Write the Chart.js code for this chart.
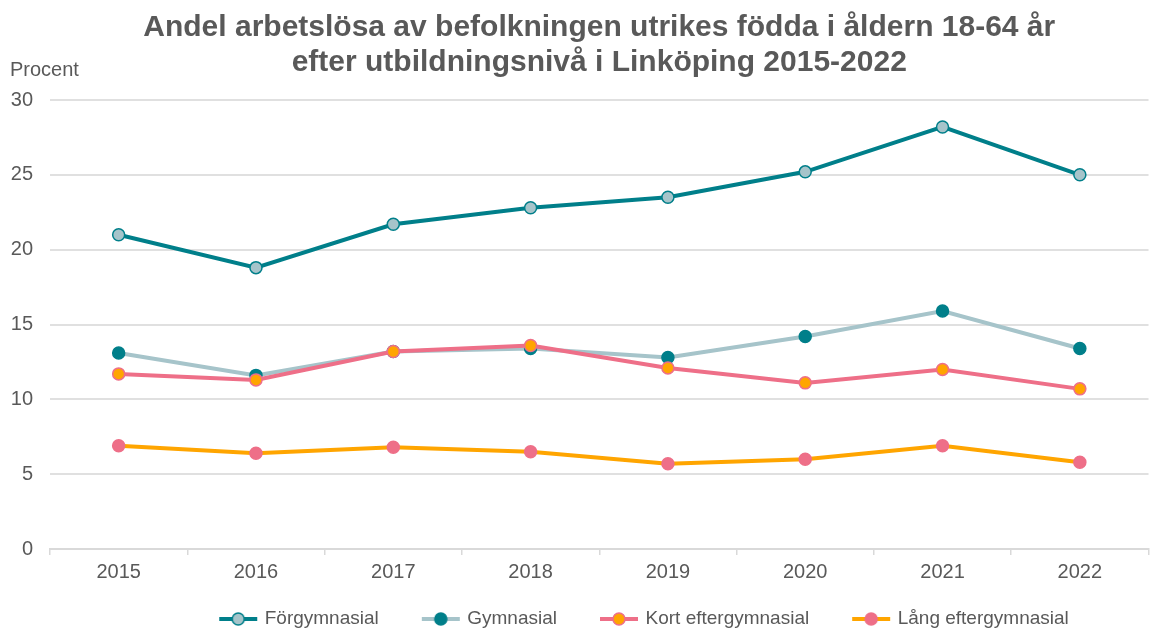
<!DOCTYPE html>
<html lang="sv">
<head>
<meta charset="utf-8">
<title>Andel arbetslösa utrikes födda - Linköping</title>
<script src="https://cdn.jsdelivr.net/npm/chart.js@4"></script>
<style>
    html, body { margin: 0; padding: 0; background: #fff; overflow: hidden; }
    #wrap { position: relative; width: 1156px; height: 663px; }
</style>
</head>
<body>
<div id="wrap"><canvas id="arbetslosaChart"></canvas></div>
<script>
// Data
const years = ['2015', '2016', '2017', '2018', '2019', '2020', '2021', '2022'];
const forgymnasial = [21.0, 18.8, 21.7, 22.8, 23.5, 25.2, 28.2, 25.0];
const gymnasial = [13.1, 11.6, 13.2, 13.4, 12.8, 14.2, 15.9, 13.4];
const kortEftergymnasial = [11.7, 11.3, 13.2, 13.6, 12.1, 11.1, 12.0, 10.7];
const langEftergymnasial = [6.9, 6.4, 6.8, 6.5, 5.7, 6.0, 6.9, 5.8];
const yTickValues = [0, 5, 10, 15, 20, 25, 30];
const seriesNames = ['Förgymnasial', 'Gymnasial', 'Kort eftergymnasial', 'Lång eftergymnasial'];

const TEAL = '#007f8a';
const LIGHT = '#a6c4ca';
const PINK = '#ee6f88';
const ORANGE = '#ffa500';
const GREY_TEXT = '#595959';
const GRID = '#e0e0e0';
const FONT = "'Liberation Sans', Arial, sans-serif";

// legend symbol: short line with the marker in the middle
function legendSymbol(lineColor, fill, border) {
    const c = document.createElement('canvas');
    c.width = 40;
    c.height = 16;
    const g = c.getContext('2d');
    g.strokeStyle = lineColor;
    g.lineWidth = 4;
    g.beginPath();
    g.moveTo(1, 8);
    g.lineTo(39, 8);
    g.stroke();
    g.beginPath();
    g.arc(20, 8, 6, 0, Math.PI * 2);
    g.fillStyle = fill;
    g.fill();
    g.lineWidth = 1.5;
    g.strokeStyle = border;
    g.stroke();
    return c;
}

const legendSymbols = [
    legendSymbol(TEAL, LIGHT, TEAL),
    legendSymbol(LIGHT, TEAL, TEAL),
    legendSymbol(PINK, ORANGE, PINK),
    legendSymbol(ORANGE, PINK, PINK)
];

// "Procent" label above the y axis, and legend moved like in the original
const extrasPlugin = {
    id: 'extras',
    afterLayout(chart) {
        const lg = chart.legend;
        lg.left += 67;
        lg.right += 67;
        lg.top -= 24.5;
        lg.bottom -= 24.5;
    },
    afterDraw(chart) {
        const ctx = chart.ctx;
        ctx.save();
        ctx.font = '20px ' + FONT;
        ctx.fillStyle = GREY_TEXT;
        ctx.textAlign = 'left';
        ctx.textBaseline = 'middle';
        ctx.fillText('Procent', 10, 70);
        ctx.restore();
    }
};

function makeDataset(label, data, lineColor, pointFill, pointBorder, order) {
    return {
        label: label,
        data: data,
        borderColor: lineColor,
        backgroundColor: lineColor,
        borderWidth: 4,
        tension: 0,
        pointRadius: 6,
        pointHoverRadius: 6,
        pointBackgroundColor: pointFill,
        pointBorderColor: pointBorder,
        pointBorderWidth: 1.5,
        order: order
    };
}

const ctx = document.getElementById('arbetslosaChart').getContext('2d');

new Chart(ctx, {
    type: 'line',
    data: {
        labels: years,
        datasets: [
            makeDataset(seriesNames[0], forgymnasial, TEAL, LIGHT, TEAL, 0),
            makeDataset(seriesNames[1], gymnasial, LIGHT, TEAL, TEAL, 2),
            makeDataset(seriesNames[2], kortEftergymnasial, PINK, ORANGE, PINK, 1),
            makeDataset(seriesNames[3], langEftergymnasial, ORANGE, PINK, PINK, 3)
        ]
    },
    options: {
        responsive: true,
        maintainAspectRatio: false,
        animation: false,
        layout: { padding: 0 },
        plugins: {
            title: {
                display: true,
                fullSize: false,
                text: [
                    'Andel arbetslösa av befolkningen utrikes födda i åldern 18-64 år',
                    'efter utbildningsnivå i Linköping 2015-2022'
                ],
                color: GREY_TEXT,
                font: { family: FONT, size: 30, weight: 'bold', lineHeight: 1.17 },
                padding: { top: 10.5, bottom: 19.3 }
            },
            legend: {
                position: 'bottom',
                labels: {
                    usePointStyle: true,
                    pointStyleWidth: 34,
                    padding: 45,
                    color: GREY_TEXT,
                    font: { family: FONT, size: 19 },
                    sort: (a, b) => a.datasetIndex - b.datasetIndex,
                    generateLabels: function(chart) {
                        const items = Chart.defaults.plugins.legend.labels.generateLabels(chart);
                        items.forEach(item => {
                            item.pointStyle = legendSymbols[item.datasetIndex];
                        });
                        return items;
                    }
                }
            },
            tooltip: { enabled: false }
        },
        scales: {
            x: {
                offset: true,
                grid: {
                    offset: true,
                    drawOnChartArea: false,
                    drawTicks: true,
                    tickLength: 6,
                    color: '#d9d9d9',
                    lineWidth: 1.5
                },
                border: { display: true, color: '#d9d9d9', width: 2 },
                ticks: {
                    color: GREY_TEXT,
                    padding: 5,
                    font: { family: FONT, size: 20 }
                }
            },
            y: {
                min: 0,
                max: 30,
                grid: {
                    color: GRID,
                    lineWidth: 2,
                    drawTicks: false
                },
                border: { display: false },
                ticks: {
                    color: GREY_TEXT,
                    padding: 17,
                    font: { family: FONT, size: 20 }
                },
                afterBuildTicks: function(scale) {
                    scale.ticks = yTickValues.map(v => ({ value: v }));
                },
                afterFit: function(scale) {
                    scale.width = 50;
                }
            }
        }
    },
    plugins: [extrasPlugin]
});
</script>
</body>
</html>
